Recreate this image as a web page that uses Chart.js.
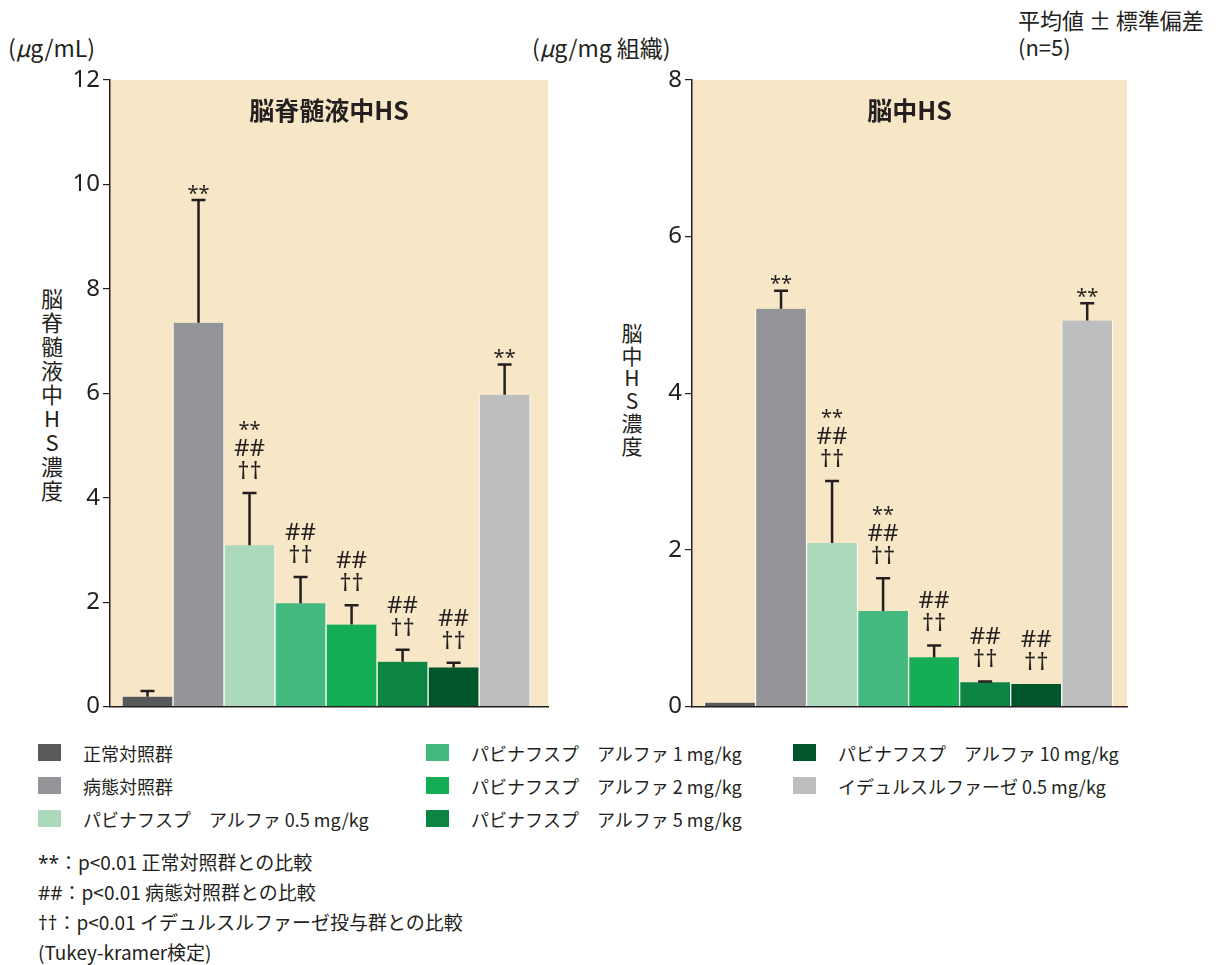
<!DOCTYPE html>
<html>
<head>
<meta charset="utf-8">
<script src="https://cdn.jsdelivr.net/npm/chart.js@4.4.0/dist/chart.umd.min.js"></script>
<style>
body{margin:0;width:1221px;height:965px;background:#fff;position:relative;overflow:hidden;
  font-family:"Noto Sans CJK JP","Noto Sans",sans-serif;color:#231f20}
.abs{position:absolute;white-space:nowrap}
.unit{font-size:23px;top:30px}
.vt{writing-mode:vertical-rl;text-orientation:upright}
.lg{position:absolute;font-size:18px;white-space:nowrap}
.lg i{position:absolute;left:0;top:4px;width:23px;height:17px}
.lg span{position:absolute;left:45px;top:0}
.note{position:absolute;left:38px;font-size:19px;white-space:nowrap}
.sym{font-family:"Noto Sans",sans-serif}
canvas{position:absolute}
</style>
</head>
<body>
<div class="abs" style="left:1018px;top:6px;font-size:22px;line-height:27px">平均値 ± 標準偏差<br>(n=5)</div>
<div class="abs unit" style="left:8px">(<i>μ</i>g/mL)</div>
<div class="abs unit" style="left:532px">(<i>μ</i>g/mg 組織)</div>
<div class="abs vt" style="left:36px;top:288px;font-size:22px;letter-spacing:2px">脳脊髄液中HS濃度</div>
<div class="abs vt" style="left:617px;top:323px;font-size:21px;letter-spacing:1.5px">脳中HS濃度</div>

<canvas id="csf" width="520" height="664" style="left:40px;top:60px"></canvas>
<canvas id="brain" width="520" height="664" style="left:620px;top:60px"></canvas>

<div id="legend"></div>

<div class="note" style="top:848px"><span class="sym">**</span>：p&lt;0.01 正常対照群との比較</div>
<div class="note" style="top:878px"><span class="sym">##</span>：p&lt;0.01 病態対照群との比較</div>
<div class="note" style="top:908px"><span class="sym">††</span>：p&lt;0.01 イデュルスルファーゼ投与群との比較</div>
<div class="note" style="top:938px">(Tukey-kramer検定)</div>

<script>
// 群と色
var groups = [
    "正常対照群",
    "病態対照群",
    "パビナフスプ　アルファ 0.5 mg/kg",
    "パビナフスプ　アルファ 1 mg/kg",
    "パビナフスプ　アルファ 2 mg/kg",
    "パビナフスプ　アルファ 5 mg/kg",
    "パビナフスプ　アルファ 10 mg/kg",
    "イデュルスルファーゼ 0.5 mg/kg"
]
var barColors = ["#58595b", "#939598", "#acd9bc", "#43b97f", "#16ae55", "#0d8542", "#00552a", "#bcbec0"]

// 脳脊髄液中HS (μg/mL)
var csfMean = [0.19, 7.35, 3.09, 1.98, 1.57, 0.86, 0.75, 5.97]
var csfSD = [0.11, 2.35, 1.0, 0.5, 0.37, 0.23, 0.09, 0.58]
var csfMarks = [[], ["**"], ["**", "##", "††"], ["##", "††"], ["##", "††"], ["##", "††"], ["##", "††"], ["**"]]
var csfTicks = [0, 2, 4, 6, 8, 10, 12]

// 脳中HS (μg/mg 組織)
var brainMean = [0.05, 5.08, 2.09, 1.22, 0.63, 0.31, 0.29, 4.93]
var brainSD = [0, 0.23, 0.79, 0.42, 0.15, 0.01, 0, 0.22]
var brainMarks = [[], ["**"], ["**", "##", "††"], ["**", "##", "††"], ["##", "††"], ["##", "††"], ["##", "††"], ["**"]]
var brainTicks = [0, 2, 4, 6, 8]

// 凡例の並び (列ごと)
var legendCols = [[0, 1, 2], [3, 4, 5], [6, 7]]

var font = "'Noto Sans CJK JP', 'Noto Sans', sans-serif"
var ink = "#231f20"

var decorPlugin = {
    id: "decor",
    beforeDraw: function(chart){
        var a = chart.chartArea, ctx = chart.ctx
        ctx.save()
        ctx.fillStyle = "#f8e7c6"
        ctx.fillRect(a.left, a.top, a.right - a.left, a.bottom - a.top)
        ctx.restore()
    },
    afterDatasetsDraw: function(chart){
        var o = chart.options.plugins.decor
        var ctx = chart.ctx, a = chart.chartArea, y = chart.scales.y
        var meta = chart.getDatasetMeta(0)
        ctx.save()
        ctx.fillStyle = ink
        ctx.textAlign = "center"
        ctx.textBaseline = "middle"
        ctx.font = "bold 25px " + font
        ctx.fillText(o.title, (a.left + a.right) / 2, a.top + 30)

        ctx.strokeStyle = ink
        ctx.lineWidth = 2.5
        meta.data.forEach(function(bar, i){
            var sd = o.sd[i]
            var top = y.getPixelForValue(o.mean[i] + sd)
            if(sd > 0){
                ctx.beginPath()
                ctx.moveTo(bar.x, bar.y)
                ctx.lineTo(bar.x, top)
                ctx.moveTo(bar.x - 7, top)
                ctx.lineTo(bar.x + 7, top)
                ctx.stroke()
            }
            // 有意差の記号 (下から積む)
            var marks = o.marks[i]
            var cy = top - 21
            for(var k = marks.length - 1; k >= 0; k--){
                var m = marks[k]
                if(m == "**"){
                    if(k == marks.length - 1) cy = top - 10
                    ctx.font = "20px 'Noto Sans', sans-serif"
                    ctx.fillText(m, bar.x, cy + 4)
                    cy -= 19
                }else{
                    ctx.font = "24px 'Noto Sans', sans-serif"
                    ctx.fillText(m, bar.x, cy)
                    cy -= 23
                }
            }
        })
        ctx.restore()
    }
}

function makeChart(id, mean, sd, marks, ticks, title, yWidth, xMin, xMax, padRight){
    return new Chart(document.getElementById(id), {
        type: "bar",
        data: {
            datasets: [{
                data: groups.map(function(g, i){ return {x: i + 1, y: mean[i]} }),
                backgroundColor: barColors,
                borderColor: "#ffffff",
                borderWidth: {left: 1, right: 1, top: 0, bottom: 0},
                borderSkipped: false,
                categoryPercentage: 1,
                barPercentage: 1
            }]
        },
        options: {
            responsive: false,
            animation: false,
            layout: {padding: {top: 20, right: padRight, bottom: 12, left: 0}},
            plugins: {
                legend: {display: false},
                tooltip: {enabled: false},
                decor: {title: title, mean: mean, sd: sd, marks: marks}
            },
            scales: {
                x: {
                    type: "linear",
                    offset: false,
                    min: xMin,
                    max: xMax,
                    afterBuildTicks: function(s){ s.ticks = groups.map(function(g, i){ return {value: i + 1} }) },
                    grid: {display: false},
                    ticks: {display: false},
                    border: {display: true, color: ink, width: 1.5},
                    afterFit: function(s){ s.height = 0 }
                },
                y: {
                    min: 0,
                    max: ticks[ticks.length - 1],
                    afterBuildTicks: function(s){ s.ticks = ticks.map(function(v){ return {value: v} }) },
                    grid: {drawOnChartArea: false, drawTicks: true, tickLength: 7, color: ink, lineWidth: 1.2},
                    border: {display: true, color: ink, width: 1.5},
                    ticks: {color: ink, padding: 3, font: {family: "'Noto Sans', sans-serif", size: 24}},
                    afterFit: function(s){ s.width = yWidth }
                }
            }
        },
        plugins: [decorPlugin]
    })
}

makeChart("csf", csfMean, csfSD, csfMarks, csfTicks, "脳脊髄液中HS", 70, 0.265, 8.85, 12)
makeChart("brain", brainMean, brainSD, brainMarks, brainTicks, "脳中HS", 72, 0.255, 8.78, 13)

// 凡例
var lg = document.getElementById("legend")
var colX = [38, 426, 793]
legendCols.forEach(function(col, c){
    col.forEach(function(gi, r){
        var d = document.createElement("div")
        d.className = "lg"
        d.style.left = colX[c] + "px"
        d.style.top = (740 + r * 33) + "px"
        d.innerHTML = '<i style="background:' + barColors[gi] + '"></i><span>' + groups[gi] + '</span>'
        lg.appendChild(d)
    })
})
</script>
</body>
</html>
